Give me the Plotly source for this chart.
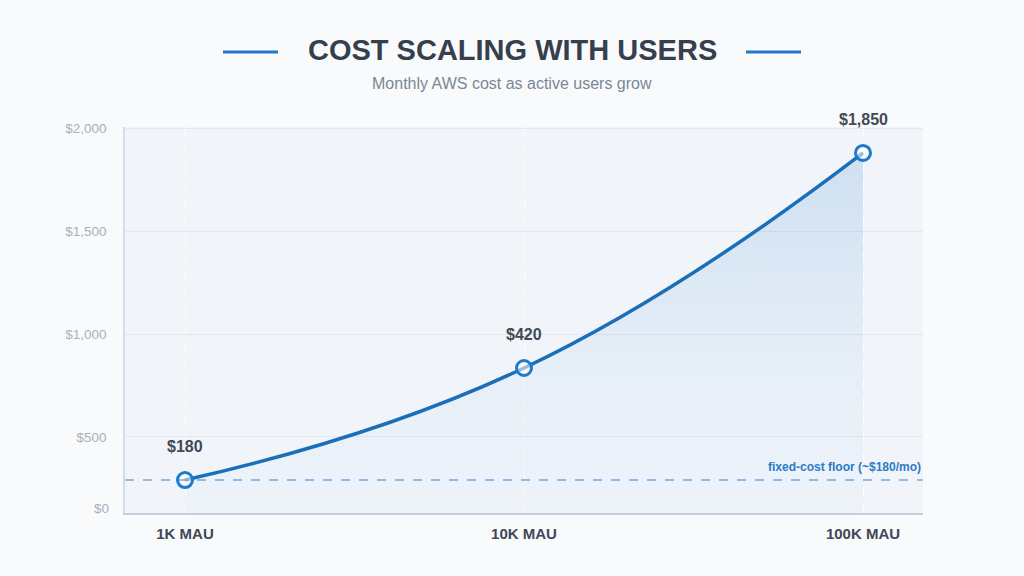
import plotly.graph_objects as go

# ---- data ----
tiers = ["1K MAU", "10K MAU", "100K MAU"]
cost_usd = [180, 420, 1850]            # labelled monthly cost
curve_level = [291, 835, 1879]          # height of each point on the drawn axis
floor_level = 291                       # fixed-cost floor line
y_ticks = [500, 1000, 1500, 2000]
y_ticktext = ["$500", "$1,000", "$1,500", "$2,000"]

# ---- layout geometry helpers (pixels -> paper) ----
W, H = 1024, 576
ML, MR, MT, MB = 125, 101, 127, 63
PW, PH = W - ML - MR, H - MT - MB
def px(x):
    return (x - ML) / PW
def py(y):
    return (H - MB - y) / PH

FONT = "Liberation Sans, Arial, sans-serif"

fig = go.Figure()

fig.add_trace(go.Scatter(
    x=tiers, y=curve_level,
    mode="lines+markers",
    line=dict(color="#1a6fb8", width=3.5, shape="spline", smoothing=1.3),
    marker=dict(size=15, color="rgba(255,255,255,0.55)",
                line=dict(color="#1f7ac9", width=3)),
    fill="tozeroy",
    fillgradient=dict(type="vertical",
                      colorscale=[[0, "rgba(60,135,205,0.01)"],
                                  [0.45, "rgba(60,135,205,0.06)"],
                                  [1, "rgba(60,135,205,0.19)"]]),
    hoverinfo="skip",
    showlegend=False,
))

annotations = []
for t, c, lv in zip(tiers, cost_usd, curve_level):
    annotations.append(dict(
        x=t, y=lv, xref="x", yref="y", text=f"${c:,}", showarrow=False,
        yanchor="bottom", yshift=23,
        font=dict(family=FONT, size=16, color="#414a56", weight="bold")))

# floor label
annotations.append(dict(
    x=1, y=floor_level, xref="paper", yref="y", xanchor="right", yanchor="bottom",
    yshift=4, text="fixed-cost floor (~$180/mo)", showarrow=False,
    font=dict(family=FONT, size=12, color="#2b7bc5", weight="bold")))

# $0 tick label at axis base
annotations.append(dict(
    x=0, y=0, xref="paper", yref="paper", xanchor="right", yanchor="middle",
    xshift=-14, yshift=5, text="$0", showarrow=False,
    font=dict(family=FONT, size=13.5, color="#a7b1bd")))

# title & subtitle (centred on the page)
annotations.append(dict(
    x=px(512), y=py(50), xref="paper", yref="paper", text="COST SCALING WITH USERS",
    showarrow=False, xanchor="center", yanchor="middle",
    font=dict(family=FONT, size=29, color="#36404d", weight="bold")))
annotations.append(dict(
    x=px(512), y=py(83), xref="paper", yref="paper",
    text="Monthly AWS cost as active users grow",
    showarrow=False, xanchor="center", yanchor="middle",
    font=dict(family=FONT, size=16, color="#7b8794")))

shapes = [
    dict(type="line", xref="paper", yref="y", x0=0, x1=1,
         y0=floor_level, y1=floor_level,
         line=dict(color="rgba(90,155,215,0.85)", width=1.5, dash="dash"),
         layer="above"),
    dict(type="line", xref="paper", yref="paper", x0=px(223), x1=px(278),
         y0=py(52), y1=py(52), line=dict(color="#1f78c8", width=3)),
    dict(type="line", xref="paper", yref="paper", x0=px(746), x1=px(801),
         y0=py(52), y1=py(52), line=dict(color="#1f78c8", width=3)),
]

fig.update_layout(
    width=W, height=H,
    margin=dict(l=ML, r=MR, t=MT, b=MB),
    paper_bgcolor="#f9fafc",
    plot_bgcolor="#f1f5fa",
    annotations=annotations,
    shapes=shapes,
    font=dict(family=FONT),
    xaxis=dict(
        range=[-0.177, 2.177],
        showgrid=True, gridcolor="rgba(255,255,255,0.9)", griddash="dash",
        gridwidth=1.2,
        showline=True, linecolor="#c5ced8", linewidth=2,
        ticks="", ticklabelstandoff=6,
        tickfont=dict(family=FONT, size=15, color="#3f4856", weight="bold"),
        zeroline=False, fixedrange=True,
    ),
    yaxis=dict(
        range=[131, 2005],
        tickvals=y_ticks, ticktext=y_ticktext,
        showgrid=True, gridcolor="#e1e8f0", gridwidth=1,
        showline=True, linecolor="#d5dde6", linewidth=1.5,
        ticks="", ticklabelstandoff=14,
        tickfont=dict(family=FONT, size=13.5, color="#a7b1bd"),
        zeroline=False, fixedrange=True,
    ),
)

fig.write_html("out.html", config={"displayModeBar": False})
